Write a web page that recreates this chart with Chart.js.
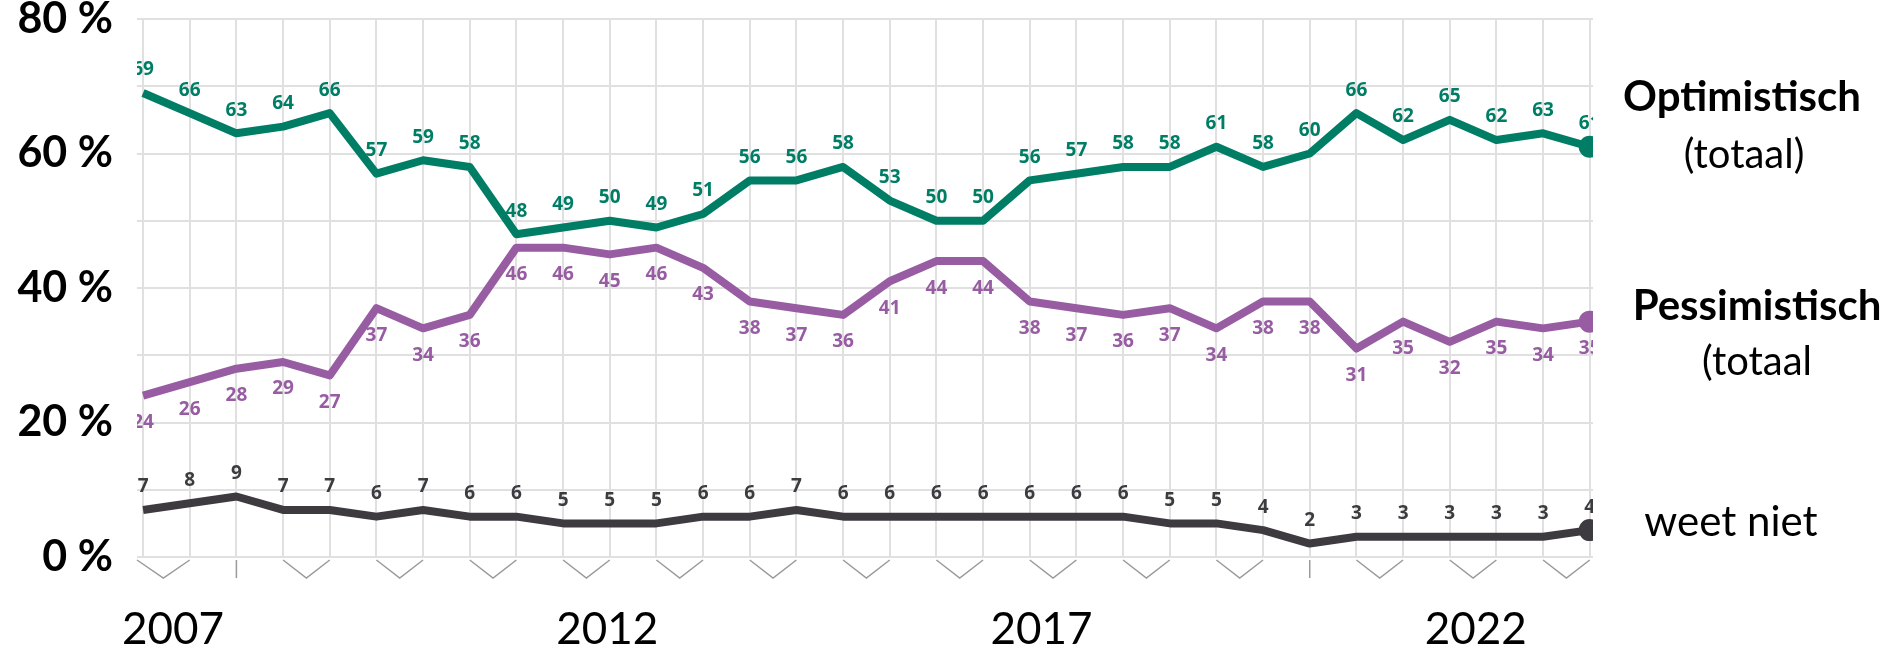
<!DOCTYPE html>
<html>
<head>
<meta charset="utf-8">
<script src="https://cdn.jsdelivr.net/npm/chart.js@4"></script>
<style>
  html, body { margin: 0; padding: 0; background: #fff; }
  #wrap { width: 1890px; height: 648px; }
</style>
</head>
<body>
<div id="wrap"><canvas id="chart" width="1890" height="648"></canvas></div>
<script>
// survey waves (index), values in %
const optimistisch = [69, 66, 63, 64, 66, 57, 59, 58, 48, 49, 50, 49, 51, 56, 56, 58,
                      53, 50, 50, 56, 57, 58, 58, 61, 58, 60, 66, 62, 65, 62, 63, 61];
const pessimistisch = [24, 26, 28, 29, 27, 37, 34, 36, 46, 46, 45, 46, 43, 38, 37, 36,
                       41, 44, 44, 38, 37, 36, 37, 34, 38, 38, 31, 35, 32, 35, 34, 35];
const weetNiet = [7, 8, 9, 7, 7, 6, 7, 6, 6, 5, 5, 5, 6, 6, 7, 6,
                  6, 6, 6, 6, 6, 6, 5, 5, 4, 2, 3, 3, 3, 3, 3, 4];
const waves = optimistisch.map((_, i) => i);
const yearTicks = [2007, 2012, 2017, 2022];
const yTicks = [0, 10, 20, 30, 40, 50, 60, 70, 80];
const axisBreaks = [2, 25];   // waves with a plain tick instead of a chevron

const GREEN = '#007e65', PURPLE = '#975ca2', GREY = '#3e3b40';
const lastIdx = waves.length - 1;

// value labels next to each point, clipped to the plot like the original
const valueLabels = {
  id: 'valueLabels',
  afterDatasetsDraw(chart) {
    const { ctx, chartArea } = chart;
    ctx.save();
    ctx.beginPath();
    ctx.rect(chartArea.left, 0, chartArea.right - chartArea.left, chart.height);
    ctx.clip();
    ctx.font = 'bold 19px "Open Sans"';
    ctx.textAlign = 'center';
    ctx.textBaseline = 'middle';
    chart.data.datasets.forEach((ds, di) => {
      const meta = chart.getDatasetMeta(di);
      ctx.fillStyle = ds.labelColor;
      meta.data.forEach((pt, i) => {
        ctx.fillText(ds.data[i].y, pt.x, pt.y + ds.labelOffset);
      });
    });
    ctx.restore();
  }
};

// chevrons under the axis (broken-axis marks) and series names on the right
const decorations = {
  id: 'decorations',
  afterDraw(chart) {
    const { ctx, chartArea } = chart;
    const xs = chart.scales.x;
    const y0 = chartArea.bottom + 3, y1 = chartArea.bottom + 21;
    ctx.save();
    ctx.strokeStyle = '#9a9a9a';
    ctx.lineWidth = 1.5;
    let i = 0;
    while (i < waves.length) {
      if (axisBreaks.includes(i)) {
        const x = xs.getPixelForValue(i);
        ctx.beginPath(); ctx.moveTo(x, y0); ctx.lineTo(x, y1); ctx.stroke();
        i += 1;
        continue;
      }
      const xa = i === 0 ? chartArea.left : xs.getPixelForValue(i);
      const xb = xs.getPixelForValue(i + 1);
      ctx.beginPath();
      ctx.moveTo(xa, y0); ctx.lineTo((xa + xb) / 2, y1); ctx.lineTo(xb, y0);
      ctx.stroke();
      i += 2;
    }

    ctx.fillStyle = '#000';
    ctx.textAlign = 'center';
    ctx.textBaseline = 'middle';
    ctx.font = 'bold 42px Lato';
    ctx.fillText('Optimistisch', 1742, 97);
    ctx.font = '40px Lato';
    ctx.fillText('(totaal)', 1744, 155);
    ctx.font = 'bold 42px Lato';
    ctx.fillText('Pessimistisch', 1757, 306);
    ctx.font = '40px Lato';
    ctx.fillText('(totaal', 1757, 362);
    ctx.font = '42px Lato';
    ctx.fillText('weet niet', 1731, 522);
    ctx.restore();
  }
};

function series(values, color, offset) {
  return {
    data: values.map((v, i) => ({ x: waves[i], y: v })),
    borderColor: color,
    backgroundColor: color,
    borderWidth: 8,
    borderJoinStyle: 'round',
    tension: 0,
    clip: 0,
    pointRadius: ctx => ctx.dataIndex === lastIdx ? 7 : 0,
    pointHoverRadius: 0,
    labelColor: color,
    labelOffset: offset
  };
}

const noPad = s => { s.paddingTop = 0; s.paddingBottom = 0; s.paddingLeft = 0; s.paddingRight = 0; };

new Chart(document.getElementById('chart'), {
  type: 'line',
  data: {
    datasets: [
      series(optimistisch, GREEN, -23),
      series(pessimistisch, PURPLE, 27),
      series(weetNiet, GREY, -23)
    ]
  },
  options: {
    responsive: false,
    animation: false,
    layout: { autoPadding: false, padding: { top: 19, right: 297, bottom: 0, left: 0 } },
    plugins: { legend: { display: false }, tooltip: { enabled: false } },
    scales: {
      x: {
        type: 'linear',
        min: -0.13,
        max: 31.07,
        afterBuildTicks: s => { s.ticks = waves.map(v => ({ value: v })); },
        afterFit: s => { s.height = 0; noPad(s); },
        ticks: { display: false },
        grid: { color: '#e0e0e0', lineWidth: 2, drawTicks: false },
        border: { display: false }
      },
      years: {
        type: 'linear',
        position: 'bottom',
        min: 2006.585,
        max: 2023.349,
        afterBuildTicks: s => { s.ticks = yearTicks.map(v => ({ value: v })); },
        afterFit: s => { s.height = 91; noPad(s); },
        ticks: {
          color: '#000',
          font: { family: 'Lato', size: 44 },
          padding: 46,
          maxRotation: 0,
          callback: v => String(v)
        },
        grid: { display: false, drawTicks: false },
        border: { display: false }
      },
      y: {
        min: 0,
        max: 80,
        afterBuildTicks: s => { s.ticks = yTicks.map(v => ({ value: v })); },
        afterFit: s => { s.width = 137; noPad(s); },
        ticks: {
          color: '#000',
          font: { family: 'Lato', size: 43, weight: 'bold' },
          padding: 24,
          callback: v => (v % 20 === 0 ? v + ' %' : '')
        },
        grid: { color: '#e0e0e0', lineWidth: 2, drawTicks: false },
        border: { display: false }
      }
    }
  },
  plugins: [valueLabels, decorations]
});
</script>
</body>
</html>
